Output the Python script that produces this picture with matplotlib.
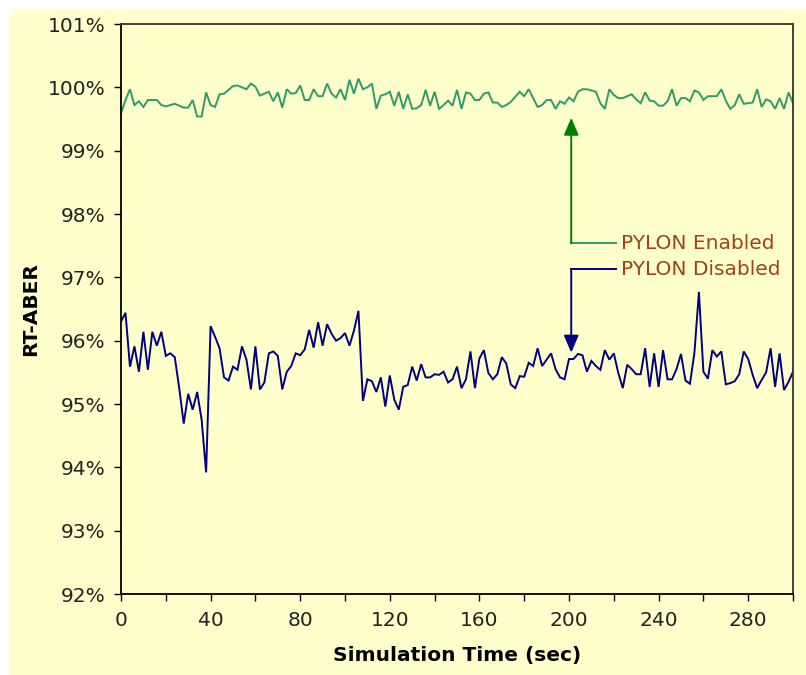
import matplotlib
matplotlib.use("Agg")
import matplotlib.pyplot as plt
from matplotlib.patches import Rectangle
from matplotlib.ticker import FuncFormatter, MultipleLocator

# ---------------- data ----------------
times = list(range(0, 301, 2))  # simulation time (sec)

pylon_enabled = [
    99.59, 99.80, 99.97, 99.72, 99.78, 99.69, 99.80, 99.80, 99.80, 99.72,
    99.70, 99.72, 99.74, 99.71, 99.68, 99.68, 99.80, 99.54, 99.54, 99.92,
    99.72, 99.69, 99.89, 99.90, 99.96, 100.02, 100.03, 100.00, 99.97, 100.06,
    100.01, 99.87, 99.90, 99.93, 99.78, 99.92, 99.68, 99.97, 99.90, 99.91,
    100.03, 99.80, 99.80, 99.97, 99.86, 99.86, 100.06, 99.90, 99.84, 99.97,
    99.80, 100.12, 99.90, 100.14, 99.97, 100.00, 100.06, 99.66, 99.87, 99.89,
    99.93, 99.71, 99.93, 99.66, 99.89, 99.66, 99.67, 99.72, 99.96, 99.71,
    99.93, 99.66, 99.72, 99.79, 99.71, 99.96, 99.66, 99.92, 99.90, 99.80,
    99.80, 99.90, 99.92, 99.76, 99.76, 99.69, 99.72, 99.77, 99.85, 99.93,
    99.86, 99.97, 99.83, 99.69, 99.72, 99.80, 99.80, 99.66, 99.78, 99.74,
    99.84, 99.78, 99.93, 99.97, 99.97, 99.95, 99.93, 99.75, 99.66, 99.97,
    99.88, 99.83, 99.83, 99.86, 99.89, 99.81, 99.75, 99.92, 99.79, 99.78,
    99.71, 99.71, 99.78, 99.97, 99.71, 99.83, 99.83, 99.78, 99.95, 99.92,
    99.80, 99.86, 99.86, 99.86, 99.97, 99.79, 99.66, 99.72, 99.89, 99.74,
    99.75, 99.76, 99.97, 99.69, 99.81, 99.78, 99.66, 99.83, 99.66, 99.92,
    99.75,
]

pylon_disabled = [
    96.30, 96.44, 95.59, 95.91, 95.51, 96.14, 95.54, 96.14, 95.92, 96.14,
    95.76, 95.80, 95.74, 95.25, 94.69, 95.16, 94.91, 95.19, 94.75, 93.92,
    96.23, 96.06, 95.88, 95.42, 95.37, 95.59, 95.54, 95.91, 95.70, 95.23,
    95.91, 95.23, 95.34, 95.80, 95.83, 95.76, 95.23, 95.51, 95.60, 95.80,
    95.77, 95.86, 96.17, 95.89, 96.29, 95.92, 96.26, 96.11, 96.00, 96.04,
    96.12, 95.92, 96.16, 96.47, 95.05, 95.39, 95.36, 95.19, 95.42, 94.96,
    95.45, 95.07, 94.91, 95.27, 95.30, 95.59, 95.37, 95.63, 95.42, 95.42,
    95.47, 95.46, 95.51, 95.34, 95.39, 95.59, 95.25, 95.39, 95.83, 95.25,
    95.72, 95.85, 95.49, 95.39, 95.47, 95.74, 95.64, 95.31, 95.25, 95.44,
    95.43, 95.65, 95.60, 95.88, 95.60, 95.70, 95.80, 95.55, 95.42, 95.39,
    95.71, 95.71, 95.79, 95.77, 95.51, 95.68, 95.60, 95.54, 95.85, 95.70,
    95.80, 95.49, 95.25, 95.62, 95.55, 95.47, 95.47, 95.88, 95.27, 95.80,
    95.27, 95.85, 95.39, 95.39, 95.55, 95.79, 95.37, 95.32, 95.81, 96.77,
    95.51, 95.40, 95.85, 95.75, 95.83, 95.31, 95.33, 95.36, 95.47, 95.83,
    95.71, 95.46, 95.25, 95.38, 95.50, 95.88, 95.27, 95.80, 95.22, 95.35,
    95.51,
]

series_labels = ["PYLON Enabled", "PYLON Disabled"]
x_label = "Simulation Time (sec)"
y_label = "RT-ABER"

# ---------------- style ----------------
BG = "#FFFFCC"
GREEN_LINE = "#2E9B6A"
BLUE_LINE = "#000080"
GREEN_ARROW = "#008000"
TEXT_RED = "#A0421C"
FRAME = "#333333"

W, H = 806, 675
fig = plt.figure(figsize=(W / 100, H / 100), dpi=100)
fig.patch.set_facecolor("white")

# chart area background
fig.patches.append(Rectangle((10 / W, 0), 1 - 10 / W, 1 - 9 / H,
                             transform=fig.transFigure, facecolor=BG,
                             edgecolor="none", zorder=-10))

ax = fig.add_axes([121 / W, 1 - 594 / H, (793 - 121) / W, (594 - 24) / H])
ax.set_facecolor(BG)
ax.set_zorder(1)

ax.plot(times, pylon_enabled, color=GREEN_LINE, lw=1.4, solid_joinstyle="miter")
ax.plot(times, pylon_disabled, color=BLUE_LINE, lw=1.4, solid_joinstyle="miter")

ax.set_xlim(0, 300)
ax.set_ylim(92, 101)

ax.xaxis.set_major_locator(MultipleLocator(20))
ax.yaxis.set_major_locator(MultipleLocator(1))
ax.xaxis.set_major_formatter(FuncFormatter(lambda v, p: f"{int(round(v))}" if int(round(v)) % 40 == 0 else ""))
ax.yaxis.set_major_formatter(FuncFormatter(lambda v, p: f"{int(round(v))}%"))

for s in ["top", "right"]:
    ax.spines[s].set_color(FRAME)
    ax.spines[s].set_linewidth(1.3)
for s in ["left", "bottom"]:
    ax.spines[s].set_color("black")
    ax.spines[s].set_linewidth(1.3)

ax.tick_params(axis="both", direction="out", length=5, width=1, colors="black",
               labelsize=14.5)
ax.tick_params(axis="x", pad=7)
ax.tick_params(axis="y", pad=6)
for lab in ax.get_xticklabels() + ax.get_yticklabels():
    lab.set_color("#222222")

ax.set_xlabel(x_label, fontsize=14.5, fontweight="bold", labelpad=12)
ax.set_ylabel(y_label, fontsize=14.5, fontweight="bold", va="center")
ax.yaxis.set_label_coords(-0.135, 0.5)

# annotations
arrow_x = 201
en_tip, en_elbow = 99.52, 97.54
dis_tip, dis_elbow = 95.81, 97.13
text_x = 223
line_end = 221

ax.plot([arrow_x, line_end], [en_elbow, en_elbow], color=GREEN_LINE, lw=1.4)
ax.annotate("", xy=(arrow_x, en_tip), xytext=(arrow_x, en_elbow),
            arrowprops=dict(arrowstyle="-|>,head_length=0.7,head_width=0.3",
                            mutation_scale=15, color=GREEN_ARROW, lw=1.4,
                            shrinkA=0, shrinkB=0))
ax.plot([arrow_x, line_end], [dis_elbow, dis_elbow], color=BLUE_LINE, lw=1.4)
ax.annotate("", xy=(arrow_x, dis_tip), xytext=(arrow_x, dis_elbow),
            arrowprops=dict(arrowstyle="-|>,head_length=0.7,head_width=0.3",
                            mutation_scale=15, color=BLUE_LINE, lw=1.4,
                            shrinkA=0, shrinkB=0))
ax.text(text_x, en_elbow, series_labels[0], color=TEXT_RED, fontsize=14.5,
        va="center", ha="left")
ax.text(text_x, dis_elbow, series_labels[1], color=TEXT_RED, fontsize=14.5,
        va="center", ha="left")

fig.savefig("out.png", dpi=100, facecolor=fig.get_facecolor())
